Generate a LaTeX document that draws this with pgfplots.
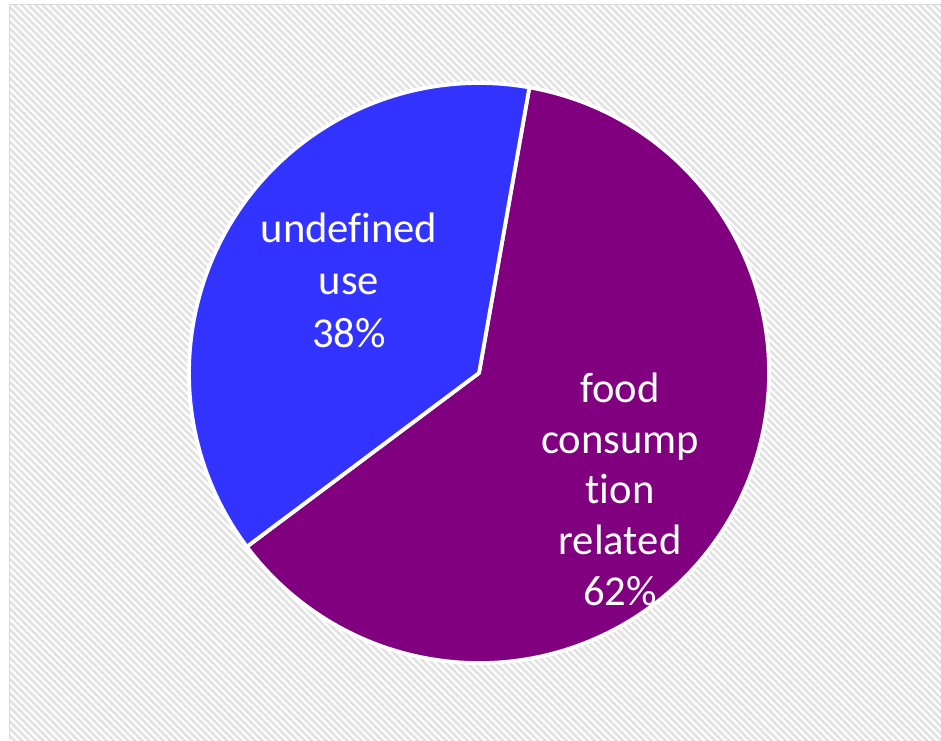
\documentclass[border=0pt]{standalone}
\usepackage{pgfplots}
\pgfplotsset{compat=1.18}
\usepackage{pgfplotstable}
\usepackage{fontspec}
\setmainfont[Ligatures=NoCommon]{Carlito}
\usetikzlibrary{patterns.meta}
\definecolor{pieBlue}{HTML}{3333FF}
\definecolor{piePurple}{HTML}{800080}
\definecolor{hatch}{HTML}{E2E2E2}
\definecolor{frame}{HTML}{D9D9D9}

\pgfplotstableread{
label value
food 62
undefined 38
}\piedata
\pgfplotstablegetelem{0}{value}\of\piedata \let\vA\pgfplotsretval
\pgfplotstablegetelem{1}{value}\of\piedata \let\vB\pgfplotsretval
\pgfmathsetmacro\aStart{80}
\pgfmathsetmacro\aMid{\aStart-3.6*\vA}
\pgfmathsetmacro\aEnd{\aMid-3.6*\vB}

\begin{document}
\begin{tikzpicture}
\begin{axis}[
  hide axis,
  x=0.5pt, y=0.5pt,
  xmin=0, xmax=941, ymin=0, ymax=740,
  clip=true,
]
\fill[white] (axis cs:0,0) rectangle (axis cs:941,740);
\fill[pattern={Lines[angle=-45, distance=2.5pt, line width=1.3pt]}, pattern color=hatch] (axis cs:10,0) rectangle (axis cs:941,735);
\draw[frame, line width=0.75pt] (axis cs:9.5,0) -- (axis cs:9.5,735.5) -- (axis cs:941,735.5);
% sectors
\filldraw[fill=piePurple, draw=white, line width=1.9pt, line join=round]
  (axis cs:479,367) -- ++(\aStart:145pt) arc[start angle=\aStart, end angle=\aMid, radius=145pt] -- cycle;
\filldraw[fill=pieBlue, draw=white, line width=1.9pt, line join=round]
  (axis cs:479,367) -- ++(\aMid:145pt) arc[start angle=\aMid, end angle=\aEnd, radius=145pt] -- cycle;
% labels
\begin{scope}[every node/.style={text=white, font=\fontsize{21.3}{26}\selectfont, anchor=base, inner sep=0pt}]
\node at (axis cs:349,497) {undef\kern0pt ined};
\node at (axis cs:349,445) {use};
\node at (axis cs:349,393) {38\%};
\node at (axis cs:620,338) {food};
\node at (axis cs:620,287) {consump};
\node at (axis cs:620,236.5) {t\kern0pt ion};
\node at (axis cs:620,186) {related};
\node at (axis cs:620,135) {62\%};
\end{scope}
\end{axis}
\end{tikzpicture}
\end{document}
